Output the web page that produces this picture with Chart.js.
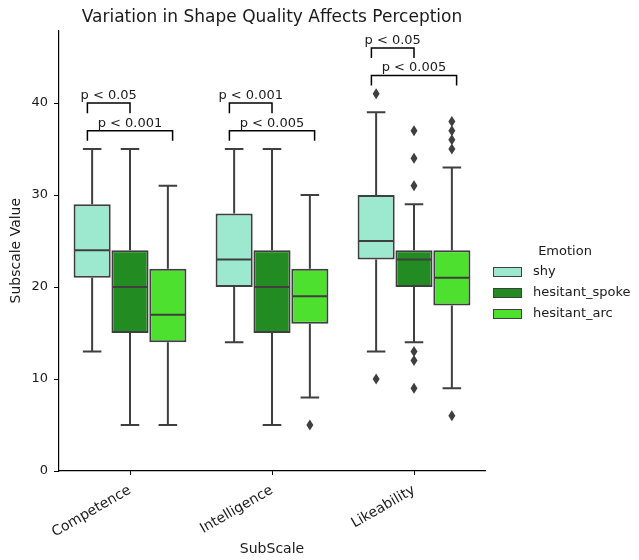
<!DOCTYPE html>
<html>
<head>
<meta charset="utf-8">
<script src="https://cdn.jsdelivr.net/npm/chart.js@4.4.0/dist/chart.umd.min.js"></script>
<style>
  html, body { margin: 0; padding: 0; background: #fff; }
  #wrap { width: 639px; height: 560px; }
</style>
</head>
<body>
<div id="wrap"><canvas id="boxChart" width="639" height="560"></canvas></div>
<script>
// Категории и группы
const subscales = ['Competence', 'Intelligence', 'Likeability'];
const emotions = ['shy', 'hesitant_spoke', 'hesitant_arc'];
const emotionColors = ['#9de9d0', '#228b22', '#4ee02f'];

// [нижний ус, Q1, медиана, Q3, верхний ус] для каждой категории
const shyBox = [[13, 21, 24, 29, 35], [14, 20, 23, 28, 35], [13, 23, 25, 30, 39]];
const spokeBox = [[5, 15, 20, 24, 35], [5, 15, 20, 24, 35], [14, 20, 23, 24, 29]];
const arcBox = [[5, 14, 17, 22, 31], [8, 16, 19, 22, 30], [9, 18, 21, 24, 33]];

// Выбросы
const shyOutliers = [[], [], [41, 10]];
const spokeOutliers = [[], [], [37, 34, 31, 13, 12, 9]];
const arcOutliers = [[], [5], [38, 37, 36, 35, 6]];

// Значимость: подписи и высота скобок (в единицах оси Y)
const sigPairs = [[0, 1], [0, 2]];
const sigLabels = [['p < 0.05', 'p < 0.001'], ['p < 0.001', 'p < 0.005'], ['p < 0.05', 'p < 0.005']];
const sigHeights = [[40, 37], [40, 37], [46, 43]];

const yTicks = [0, 10, 20, 30, 40];

const boxStats = [shyBox, spokeBox, arcBox];
const outlierStats = [shyOutliers, spokeOutliers, arcOutliers];
const lineColor = '#3f3f3f';
const textColor = '#1a1a1a';
const baseFont = 'DejaVu Sans';

const boxPartsPlugin = {
    id: 'boxParts',
    afterDatasetsDraw(chart) {
        const ctx = chart.ctx;
        const yScale = chart.scales.y;
        ctx.save();
        ctx.strokeStyle = lineColor;
        ctx.fillStyle = lineColor;
        ctx.lineWidth = 2;
        boxStats.forEach(function(stats, d) {
            const meta = chart.getDatasetMeta(d);
            stats.forEach(function(s, i) {
                const bar = meta.data[i];
                const cx = bar.x;
                const half = bar.width / 2;
                const cap = bar.width / 4;
                const lo = yScale.getPixelForValue(s[0]);
                const q1 = yScale.getPixelForValue(s[1]);
                const med = yScale.getPixelForValue(s[2]);
                const q3 = yScale.getPixelForValue(s[3]);
                const hi = yScale.getPixelForValue(s[4]);
                ctx.beginPath();
                ctx.moveTo(cx, q1); ctx.lineTo(cx, lo);
                ctx.moveTo(cx - cap, lo); ctx.lineTo(cx + cap, lo);
                ctx.moveTo(cx, q3); ctx.lineTo(cx, hi);
                ctx.moveTo(cx - cap, hi); ctx.lineTo(cx + cap, hi);
                ctx.moveTo(cx - half + 1, med); ctx.lineTo(cx + half - 1, med);
                ctx.stroke();

                // выбросы ромбами
                outlierStats[d][i].forEach(function(v) {
                    const py = yScale.getPixelForValue(v);
                    ctx.beginPath();
                    ctx.moveTo(cx, py - 5.5);
                    ctx.lineTo(cx + 3.5, py);
                    ctx.lineTo(cx, py + 5.5);
                    ctx.lineTo(cx - 3.5, py);
                    ctx.closePath();
                    ctx.fill();
                });
            });
        });
        ctx.restore();
    }
};

const significancePlugin = {
    id: 'significance',
    afterDatasetsDraw(chart) {
        const ctx = chart.ctx;
        const xScale = chart.scales.x;
        const yScale = chart.scales.y;
        const step = xScale.getPixelForValue(1) - xScale.getPixelForValue(0);
        const offsets = [-0.3, 0, 0.3];
        ctx.save();
        ctx.strokeStyle = '#000';
        ctx.lineWidth = 1.5;
        ctx.fillStyle = textColor;
        ctx.font = '13px "' + baseFont + '"';
        ctx.textAlign = 'center';
        ctx.textBaseline = 'bottom';
        subscales.forEach(function(name, i) {
            const center = xScale.getPixelForValue(i);
            sigPairs.forEach(function(pair, k) {
                const x1 = center + offsets[pair[0]] * step;
                const x2 = center + offsets[pair[1]] * step;
                const top = yScale.getPixelForValue(sigHeights[i][k]);
                const foot = yScale.getPixelForValue(sigHeights[i][k] - 1.1);
                ctx.beginPath();
                ctx.moveTo(x1, foot);
                ctx.lineTo(x1, top);
                ctx.lineTo(x2, top);
                ctx.lineTo(x2, foot);
                ctx.stroke();
                ctx.fillText(sigLabels[i][k], (x1 + x2) / 2, top - 1);
            });
        });
        ctx.restore();
    }
};

// Легенда справа (как у seaborn)
const legendPlugin = {
    id: 'sideLegend',
    afterDraw(chart) {
        const ctx = chart.ctx;
        const left = chart.chartArea.right + 8;
        const midY = 252;
        ctx.save();
        ctx.font = '13px "' + baseFont + '"';
        ctx.fillStyle = textColor;
        ctx.textBaseline = 'middle';
        ctx.textAlign = 'center';
        ctx.fillText('Emotion', left + 72, midY);
        ctx.textAlign = 'left';
        emotions.forEach(function(label, i) {
            const yy = midY + 20 + i * 21;
            ctx.fillStyle = emotionColors[i];
            ctx.fillRect(left, yy - 5, 29, 10);
            ctx.strokeStyle = lineColor;
            ctx.lineWidth = 1;
            ctx.strokeRect(left + 0.5, yy - 4.5, 28, 9);
            ctx.fillStyle = textColor;
            ctx.fillText(label, left + 40, yy);
        });
        ctx.restore();
    }
};

const ctx = document.getElementById('boxChart');
new Chart(ctx, {
    type: 'bar',
    data: {
        labels: subscales,
        datasets: emotions.map(function(name, d) {
            return {
                label: name,
                data: boxStats[d].map(function(s) { return [s[1], s[3]]; }),
                backgroundColor: emotionColors[d],
                borderColor: lineColor,
                borderWidth: 2,
                borderSkipped: false,
                categoryPercentage: 0.8,
                barPercentage: 0.98
            };
        })
    },
    options: {
        responsive: false,
        animation: false,
        layout: {
            padding: { left: 0, right: 154, top: 0, bottom: 0 }
        },
        plugins: {
            legend: { display: false },
            tooltip: { enabled: false },
            title: {
                display: true,
                text: 'Variation in Shape Quality Affects Perception',
                fullSize: false,
                color: textColor,
                font: { family: baseFont, size: 17, weight: 'normal' },
                padding: { top: 7, bottom: 3 }
            }
        },
        scales: {
            x: {
                offset: true,
                grid: {
                    offset: false,
                    drawOnChartArea: false,
                    drawTicks: true,
                    tickLength: 4,
                    color: '#000'
                },
                border: { display: true, color: '#000', width: 1.2 },
                ticks: {
                    color: textColor,
                    font: { family: baseFont, size: 14 },
                    minRotation: 30,
                    maxRotation: 30,
                    padding: 7
                },
                title: {
                    display: true,
                    text: 'SubScale',
                    color: textColor,
                    font: { family: baseFont, size: 14 },
                    padding: { top: 4, bottom: 2 }
                },
                afterFit: function(scale) { scale.height = 89; }
            },
            y: {
                min: 0,
                max: 47.9,
                grid: {
                    drawOnChartArea: false,
                    drawTicks: true,
                    tickLength: 5,
                    color: '#000'
                },
                border: { display: true, color: '#000', width: 1.2 },
                afterBuildTicks: function(scale) {
                    scale.ticks = yTicks.map(function(v) { return { value: v }; });
                },
                ticks: {
                    color: textColor,
                    font: { family: baseFont, size: 13 },
                    padding: 6
                },
                title: {
                    display: true,
                    text: 'Subscale Value',
                    color: textColor,
                    font: { family: baseFont, size: 14 },
                    padding: { top: 8, bottom: 4 }
                },
                afterFit: function(scale) { scale.width = 59; }
            }
        }
    },
    plugins: [boxPartsPlugin, significancePlugin, legendPlugin]
});
</script>
</body>
</html>
